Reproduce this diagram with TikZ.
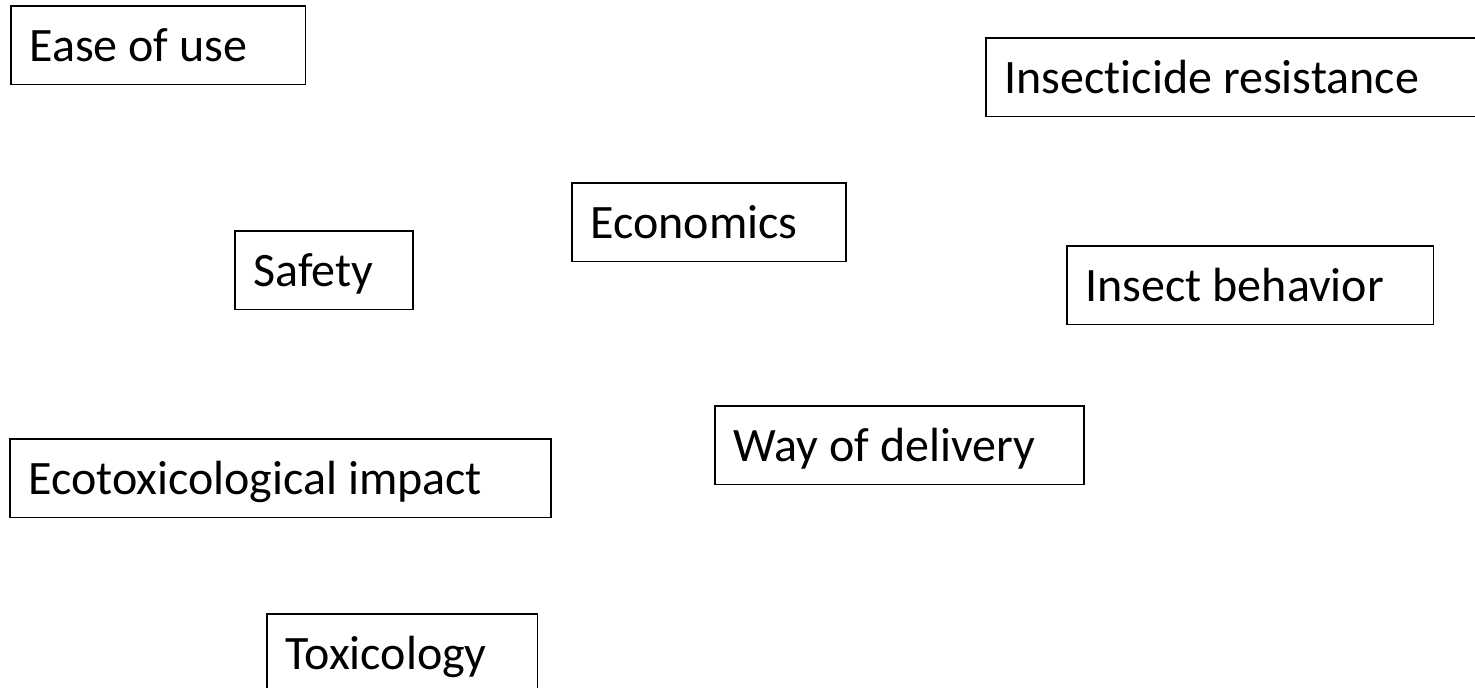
\documentclass[tikz,border=0pt]{standalone}
\usepackage{fontspec}
\setmainfont{Carlito}[RawFeature=-liga]
\usetikzlibrary{positioning}

\begin{document}
\begin{tikzpicture}[
  x=0.75pt, y=-0.75pt,
  factorbox/.style={draw, line width=1.3pt, anchor=north west, align=flush left, text width=#1, minimum height=59pt, inner xsep=14pt, inner ysep=0pt, text height=30pt, text depth=6pt, font=\fontsize{36}{43}\selectfont}
]
  \clip (0,0) rectangle (1475,688);

  \node[factorbox=193pt] (ease) at (10,5) {Ease of use};
  \node[factorbox=358pt] (resist) at (985,37) {Insecticide resistance};
  \node[factorbox=177.5pt] (econ) at (571,182) {Economics};
  \node[factorbox=105.5pt] (safety) at (234,230) {Safety};
  \node[factorbox=247pt] (behav) at (1066,245) {Insect behavior};
  \node[factorbox=249pt] (deliv) at (714,405) {Way of delivery};
  \node[factorbox=378pt] (ecotox) at (9,438) {Ecotoxicological impact};
  \node[factorbox=175pt] (tox) at (266,613) {Toxicology};
\end{tikzpicture}
\end{document}
